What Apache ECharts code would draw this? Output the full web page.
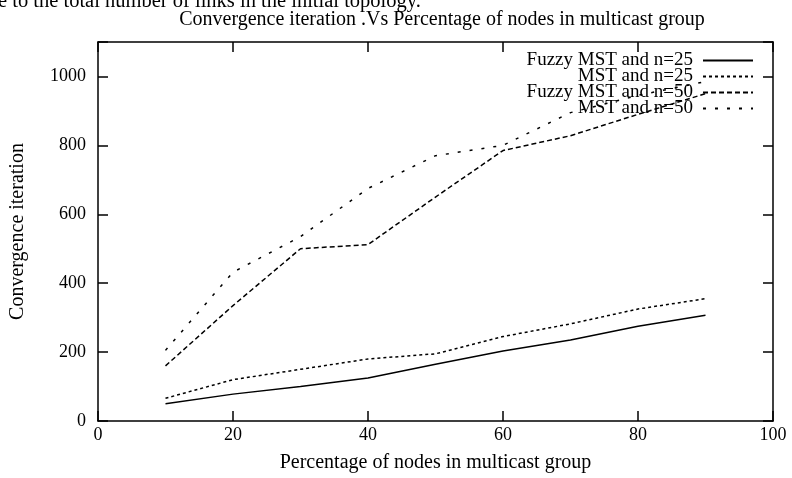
<!DOCTYPE html>
<html>
<head>
<meta charset="utf-8">
<script src="https://cdn.jsdelivr.net/npm/echarts@6/dist/echarts.min.js"></script>
<style>
  html, body { margin: 0; padding: 0; background: #fff; }
  #chart { width: 792px; height: 478px; }
</style>
</head>
<body>
<div id="chart"></div>
<script>
// data
var xValues   = [10, 20, 30, 40, 50, 60, 70, 80, 90];
var fuzzy25   = [50, 78, 100, 125, 165, 203, 235, 275, 307];
var mst25     = [66, 120, 150, 180, 195, 245, 282, 325, 355];
var fuzzy50   = [160, 335, 500, 512, 650, 785, 828, 890, 950];
var mst50     = [205, 432, 535, 675, 770, 800, 895, 945, 985];
var xTicks    = [0, 20, 40, 60, 80, 100];
var yTicks    = [0, 200, 400, 600, 800, 1000];
var seriesNames = ['Fuzzy MST and n=25', 'MST and n=25', 'Fuzzy MST and n=50', 'MST and n=50'];

var font = 'Liberation Serif';

function pairs(ys) {
    return xValues.map(function (x, i) { return [x, ys[i]]; });
}

var myChart = echarts.init(document.getElementById('chart'));

function tick() {
    return { show: true, inside: true, length: 10, lineStyle: { color: '#000', width: 1.5 } };
}
function axLine() {
    return { show: true, onZero: false, lineStyle: { color: '#000', width: 1.5 } };
}

var option = {
    animation: false,
    backgroundColor: '#fff',
    title: {
        text: 'Convergence iteration .Vs Percentage of nodes in multicast group',
        left: 437,
        textAlign: 'center',
        top: 5,
        textStyle: { fontFamily: font, fontSize: 20, fontWeight: 'normal', color: '#000' }
    },
    graphic: [{
        type: 'text',
        left: -2,
        top: -9,
        style: {
            text: 'e to the total number of links in the initial topology.',
            fontFamily: font, fontSize: 20.5, fill: '#000'
        }
    }],
    legend: {
        data: seriesNames,
        orient: 'vertical',
        align: 'right',
        right: 38,
        top: 51,
        padding: 0,
        itemWidth: 50,
        itemHeight: 10,
        itemGap: -3,
        itemStyle: { opacity: 0 },
        textStyle: {
            fontFamily: font, fontSize: 19, color: '#000',
            width: 185, align: 'right', lineHeight: 16, padding: [0, 5, 0, 0]
        }
    },
    grid: { left: 97, right: 19, top: 42, bottom: 55 },
    xAxis: [{
        type: 'value',
        min: 0, max: 100, interval: 20,
        name: 'Percentage of nodes in multicast group',
        nameLocation: 'middle',
        nameGap: 32,
        nameTextStyle: { fontFamily: font, fontSize: 20, color: '#000' },
        axisLine: axLine(),
        axisTick: tick(),
        splitLine: { show: false },
        axisLabel: {
            fontFamily: font, fontSize: 18, color: '#000', margin: 5,
            formatter: function (v) { return xTicks.indexOf(v) >= 0 ? String(v) : ''; }
        }
    }, {
        type: 'value',
        position: 'top',
        min: 0, max: 100, interval: 20,
        axisLine: axLine(),
        axisTick: tick(),
        splitLine: { show: false },
        axisLabel: { show: false }
    }],
    yAxis: [{
        type: 'value',
        min: 0, max: 1100, interval: 200,
        name: 'Convergence iteration',
        nameLocation: 'middle',
        nameRotate: 90,
        nameGap: 70,
        nameTextStyle: { fontFamily: font, fontSize: 20, color: '#000' },
        axisLine: axLine(),
        axisTick: tick(),
        splitLine: { show: false },
        axisLabel: {
            fontFamily: font, fontSize: 18, color: '#000', margin: 12,
            formatter: function (v) { return yTicks.indexOf(v) >= 0 ? String(v) : ''; }
        }
    }, {
        type: 'value',
        position: 'right',
        min: 0, max: 1100, interval: 200,
        axisLine: axLine(),
        axisTick: tick(),
        splitLine: { show: false },
        axisLabel: { show: false }
    }],
    series: [
        {
            name: seriesNames[0], type: 'line', symbol: 'none',
            data: pairs(fuzzy25),
            lineStyle: { color: '#000', width: 1.5, type: 'solid' },
            itemStyle: { color: '#000' }
        },
        {
            name: seriesNames[1], type: 'line', symbol: 'none',
            data: pairs(mst25),
            lineStyle: { color: '#000', width: 1.5, type: [3, 3] },
            itemStyle: { color: '#000' }
        },
        {
            name: seriesNames[2], type: 'line', symbol: 'none',
            data: pairs(fuzzy50),
            lineStyle: { color: '#000', width: 1.5, type: [5, 3] },
            itemStyle: { color: '#000' }
        },
        {
            name: seriesNames[3], type: 'line', symbol: 'none',
            data: pairs(mst50),
            lineStyle: { color: '#000', width: 1.5, type: [3, 9] },
            itemStyle: { color: '#000' }
        }
    ]
};

myChart.setOption(option);
</script>
</body>
</html>
